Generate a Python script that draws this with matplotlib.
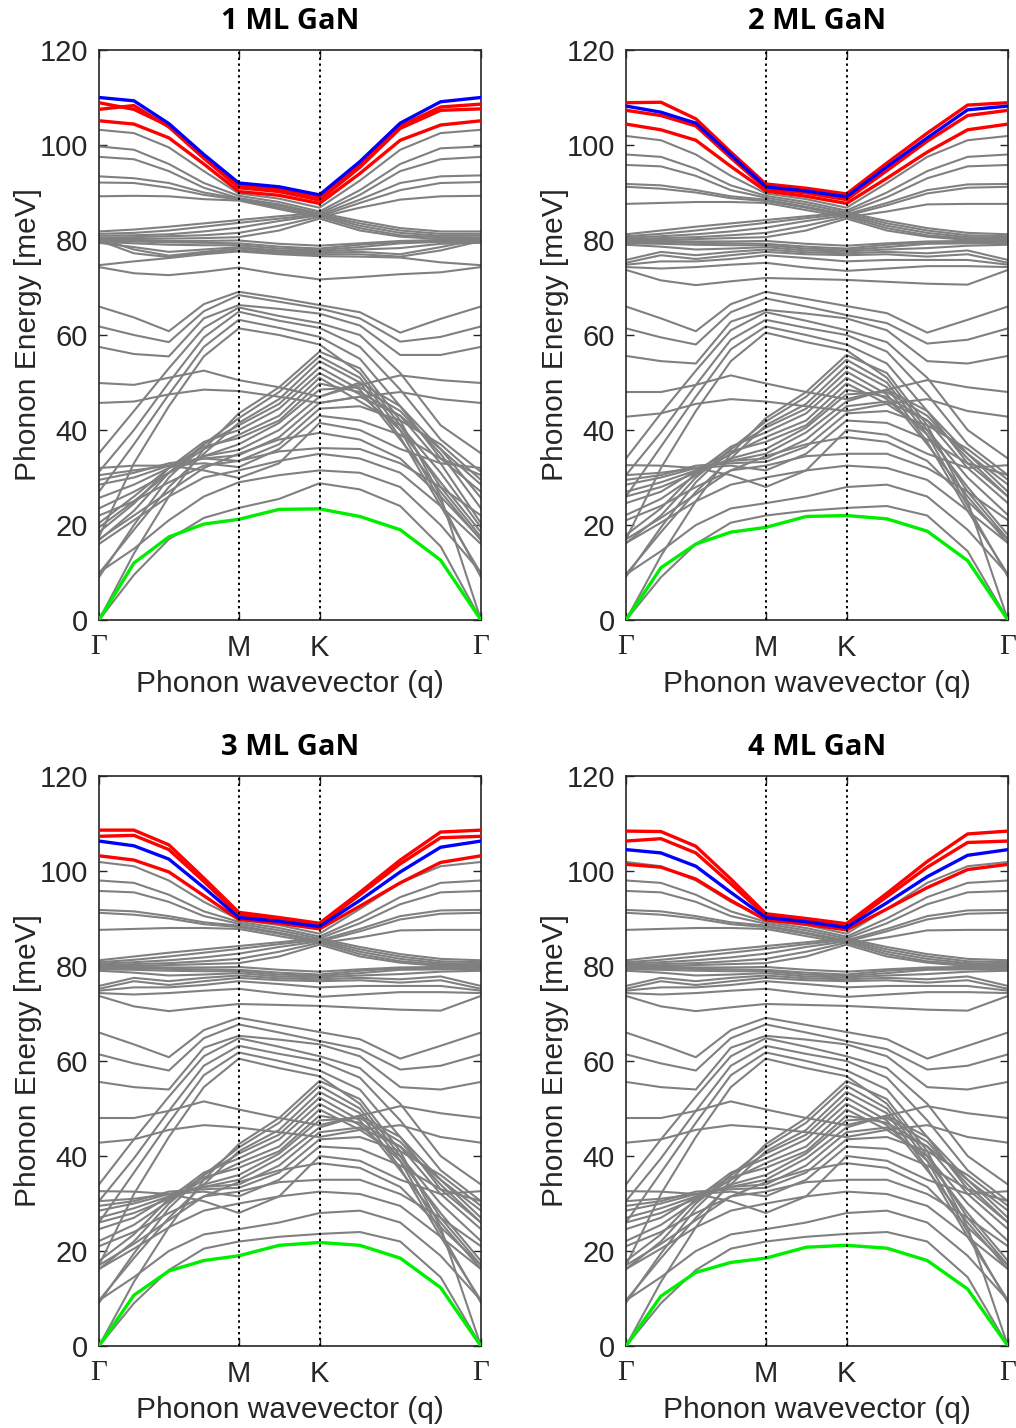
import numpy as np
import matplotlib.pyplot as plt

# q path: Gamma -> M -> K -> Gamma (hexagonal BZ lengths)
Q_NODES = [0.0, 0.866, 1.366, 2.366]
Q_LABELS = ['\u0393', 'M', 'K', '\u0393']
TITLES = ['1 ML GaN', '2 ML GaN', '3 ML GaN', '4 ML GaN']

# band energies (meV) sampled at: G, 1/4, 1/2, 3/4 GM, M, mid MK, K, 1/4, 1/2, 3/4 KG, G
GRAY_1ML = [
    [103.2, 102.5, 99.5, 94.5, 89.8, 88.7, 86.8, 92.5, 99.0, 102.5, 103.2],
    [99.7, 99.0, 96.0, 92.0, 89.3, 88.0, 86.0, 90.5, 96.0, 99.3, 99.7],
    [97.5, 97.0, 94.5, 91.0, 88.8, 87.5, 85.6, 89.5, 94.5, 97.0, 97.5],
    [93.4, 93.0, 92.0, 90.0, 88.7, 87.2, 85.3, 88.5, 92.0, 93.4, 93.6],
    [92.1, 92.0, 91.0, 89.5, 88.5, 86.8, 85.0, 87.8, 90.5, 92.0, 92.2],
    [89.2, 89.3, 89.2, 88.6, 88.3, 86.5, 84.8, 86.8, 88.5, 89.2, 89.3],
    [81.8, 82.2, 82.8, 83.5, 84.2, 85.0, 85.7, 84.0, 82.5, 81.8, 81.8],
    [81.3, 81.5, 82.0, 82.8, 83.6, 84.5, 85.4, 83.5, 82.0, 81.3, 81.3],
    [80.9, 81.0, 81.2, 81.8, 82.6, 84.0, 85.2, 83.0, 81.5, 80.9, 80.9],
    [80.5, 80.6, 80.8, 81.0, 81.5, 83.0, 84.9, 82.5, 81.0, 80.6, 80.5],
    [80.2, 80.2, 80.3, 80.4, 80.6, 82.0, 84.5, 82.0, 80.7, 80.2, 80.2],
    [80.0, 79.9, 79.8, 79.8, 79.9, 79.2, 78.8, 79.3, 79.8, 80.0, 80.0],
    [79.8, 79.7, 79.5, 79.4, 79.3, 78.6, 78.2, 79.0, 79.6, 79.8, 79.8],
    [79.6, 79.3, 79.0, 78.9, 78.9, 78.2, 77.9, 78.5, 79.3, 79.6, 79.6],
    [79.4, 78.5, 77.5, 78.0, 78.5, 77.8, 77.6, 78.0, 78.3, 79.2, 79.4],
    [80.3, 78.0, 76.7, 77.5, 78.2, 77.5, 77.3, 77.5, 77.0, 78.5, 80.2],
    [79.9, 77.2, 76.4, 77.2, 77.8, 77.2, 77.0, 77.0, 76.5, 77.8, 79.8],
    [74.7, 75.5, 76.2, 77.0, 77.6, 77.0, 76.6, 76.5, 76.3, 75.3, 74.7],
    [74.3, 73.0, 72.6, 73.3, 74.2, 72.8, 71.7, 72.2, 72.8, 73.2, 74.3],
    [66.0, 63.7, 60.8, 66.5, 69.1, 67.8, 66.3, 64.8, 60.5, 63.4, 66.0],
    [61.8, 60.0, 58.5, 65.0, 68.4, 67.0, 65.6, 63.5, 58.6, 59.6, 61.8],
    [57.5, 56.0, 55.5, 63.5, 66.3, 65.5, 64.5, 62.0, 55.8, 55.8, 57.5],
    [35.1, 44.0, 53.0, 61.5, 65.8, 64.0, 62.5, 60.0, 52.0, 41.0, 35.1],
    [31.2, 40.0, 50.0, 59.5, 64.9, 63.0, 61.5, 57.5, 48.5, 38.0, 31.2],
    [27.0, 37.0, 47.5, 57.5, 63.2, 61.5, 59.6, 55.0, 45.0, 34.0, 27.0],
    [17.5, 33.0, 45.0, 55.5, 61.4, 60.0, 58.0, 52.0, 41.0, 28.0, 17.5],
    [49.9, 49.5, 51.0, 52.5, 50.5, 49.0, 47.0, 49.5, 51.5, 50.5, 49.9],
    [45.7, 46.0, 47.5, 48.5, 48.2, 47.0, 45.7, 47.0, 48.0, 46.5, 45.7],
    [0.0, 14.0, 26.0, 36.0, 43.5, 49.0, 56.5, 53.0, 42.0, 26.0, 0.0],
    [0.0, 9.5, 17.0, 21.5, 23.6, 25.5, 28.8, 27.5, 24.0, 15.5, 0.0],
    [9.0, 20.0, 30.0, 37.0, 42.5, 48.0, 55.5, 51.0, 40.0, 25.0, 9.0],
    [9.8, 19.0, 28.0, 35.0, 41.5, 46.5, 54.5, 50.0, 38.5, 24.0, 9.8],
    [16.8, 23.0, 31.0, 37.0, 41.0, 45.5, 53.2, 48.5, 38.0, 27.0, 16.8],
    [18.5, 24.5, 32.0, 37.5, 40.0, 44.5, 52.0, 47.5, 40.0, 29.0, 18.5],
    [19.5, 25.0, 31.0, 36.0, 39.0, 43.0, 51.0, 46.0, 41.0, 31.0, 19.5],
    [20.4, 26.0, 32.0, 36.5, 38.3, 42.0, 49.8, 48.0, 43.0, 33.0, 20.4],
    [23.5, 27.0, 31.0, 34.5, 37.0, 41.5, 48.5, 49.0, 44.0, 35.0, 23.5],
    [25.7, 28.5, 32.0, 34.5, 35.8, 40.0, 47.0, 50.0, 45.0, 36.0, 25.7],
    [28.5, 30.0, 32.5, 34.0, 34.7, 38.5, 45.7, 47.0, 43.0, 36.0, 28.5],
    [29.5, 31.0, 33.0, 34.0, 33.5, 37.0, 44.5, 45.0, 42.0, 37.0, 29.5],
    [30.5, 31.5, 32.5, 33.0, 32.2, 36.0, 43.0, 42.0, 39.0, 34.0, 30.5],
    [32.0, 32.5, 32.5, 31.5, 29.9, 33.0, 41.5, 40.0, 36.0, 33.0, 32.0],
    [17.0, 22.0, 27.0, 32.0, 35.0, 38.0, 39.4, 38.0, 34.0, 26.0, 17.0],
    [22.0, 25.0, 29.0, 32.5, 33.5, 35.5, 36.2, 36.0, 33.0, 28.0, 22.0],
    [16.0, 21.0, 26.0, 30.0, 31.5, 33.5, 35.0, 34.0, 31.0, 24.0, 16.0],
    [10.0, 15.0, 21.0, 26.0, 29.0, 30.5, 31.5, 31.0, 28.0, 20.0, 10.0],
]

GRAY_NML = [
    [101.9, 101.0, 98.0, 93.5, 89.8, 88.6, 86.8, 92.0, 97.5, 101.0, 101.9],
    [98.0, 97.5, 95.0, 91.5, 89.3, 88.0, 86.2, 90.0, 94.5, 97.5, 98.0],
    [95.8, 95.5, 93.5, 90.5, 88.9, 87.5, 85.8, 89.0, 93.0, 95.5, 95.8],
    [91.8, 91.5, 90.5, 89.2, 88.5, 87.0, 85.4, 87.8, 90.5, 91.7, 91.8],
    [91.2, 90.8, 90.0, 88.8, 88.2, 86.8, 85.1, 87.3, 89.8, 91.0, 91.2],
    [87.6, 87.8, 88.0, 88.0, 87.8, 86.3, 84.8, 86.0, 87.5, 87.6, 87.6],
    [81.2, 82.0, 82.8, 83.5, 84.2, 85.0, 85.8, 84.0, 82.5, 81.5, 81.2],
    [80.8, 81.3, 82.0, 82.8, 83.6, 84.6, 85.5, 83.5, 82.0, 81.0, 80.8],
    [80.5, 80.8, 81.2, 81.8, 82.6, 84.0, 85.2, 83.0, 81.5, 80.6, 80.5],
    [80.2, 80.4, 80.6, 81.0, 81.5, 83.0, 84.9, 82.5, 81.0, 80.3, 80.2],
    [80.0, 80.0, 80.2, 80.4, 80.6, 82.0, 84.5, 82.0, 80.7, 80.0, 80.0],
    [79.8, 79.8, 79.7, 79.7, 79.8, 79.2, 78.8, 79.3, 79.7, 79.8, 79.8],
    [79.6, 79.5, 79.4, 79.3, 79.2, 78.6, 78.2, 79.0, 79.5, 79.6, 79.6],
    [79.3, 79.2, 79.0, 78.9, 78.9, 78.2, 77.9, 78.5, 79.2, 79.3, 79.3],
    [79.0, 78.6, 78.0, 78.2, 78.5, 77.8, 77.6, 78.0, 78.3, 78.8, 79.0],
    [75.8, 77.5, 76.8, 77.5, 78.0, 77.4, 77.2, 77.5, 77.2, 77.8, 75.8],
    [75.2, 76.8, 76.0, 76.8, 77.5, 77.0, 76.8, 77.0, 76.5, 77.0, 75.2],
    [74.8, 75.5, 75.5, 76.0, 76.8, 76.2, 75.5, 75.8, 75.8, 75.8, 74.8],
    [74.3, 74.0, 74.3, 74.8, 75.2, 74.2, 73.5, 74.0, 74.5, 74.5, 74.3],
    [73.7, 71.5, 70.5, 71.3, 72.0, 71.8, 71.6, 71.2, 70.8, 70.6, 73.7],
    [66.0, 63.5, 60.8, 66.5, 69.1, 67.6, 66.1, 64.6, 60.5, 63.2, 66.0],
    [61.4, 59.5, 58.0, 64.8, 67.7, 66.0, 64.2, 62.5, 58.2, 59.0, 61.4],
    [55.6, 54.5, 54.0, 62.8, 65.3, 64.5, 63.5, 61.0, 54.5, 54.0, 55.6],
    [34.0, 43.5, 52.5, 61.0, 64.8, 63.0, 61.0, 58.5, 51.0, 40.0, 34.0],
    [30.5, 39.5, 49.5, 59.0, 63.2, 61.5, 60.0, 56.5, 47.5, 37.0, 30.5],
    [26.0, 36.5, 47.0, 57.0, 61.8, 60.0, 58.0, 54.0, 44.0, 33.0, 26.0],
    [17.0, 32.0, 44.0, 54.5, 60.5, 58.5, 56.8, 51.0, 40.0, 27.0, 17.0],
    [48.0, 48.0, 49.5, 51.5, 49.8, 48.0, 46.5, 48.5, 50.5, 49.0, 48.0],
    [42.8, 43.5, 45.5, 46.5, 46.0, 45.0, 44.0, 45.5, 46.5, 44.0, 42.8],
    [0.0, 13.5, 25.0, 35.0, 42.5, 48.0, 55.8, 52.0, 41.0, 25.0, 0.0],
    [0.0, 9.0, 16.0, 20.5, 22.0, 23.0, 23.6, 24.0, 22.0, 14.5, 0.0],
    [9.1, 19.5, 29.0, 36.0, 41.8, 47.0, 54.8, 50.0, 39.0, 24.0, 9.1],
    [9.6, 18.5, 27.0, 34.0, 41.0, 45.5, 53.5, 49.0, 37.5, 23.0, 9.6],
    [16.2, 22.0, 30.0, 36.0, 40.5, 44.5, 52.3, 47.5, 37.0, 26.0, 16.2],
    [17.9, 23.5, 31.0, 36.5, 39.5, 43.5, 51.0, 46.5, 39.0, 28.0, 17.9],
    [22.1, 25.5, 30.5, 35.0, 38.5, 42.0, 49.8, 45.5, 40.0, 30.0, 22.1],
    [24.6, 27.0, 31.5, 35.5, 37.5, 41.0, 48.5, 47.0, 42.0, 32.0, 24.6],
    [26.0, 28.0, 31.0, 34.0, 36.0, 40.5, 47.5, 48.0, 43.0, 34.0, 26.0],
    [27.0, 29.0, 31.5, 33.5, 35.0, 39.5, 46.0, 48.5, 44.0, 35.0, 27.0],
    [28.5, 30.0, 32.0, 33.5, 34.0, 38.0, 45.0, 46.0, 42.0, 35.0, 28.5],
    [29.5, 30.5, 32.5, 33.0, 33.3, 36.5, 43.5, 44.0, 41.0, 36.0, 29.5],
    [30.5, 31.0, 32.0, 32.5, 31.5, 35.0, 42.0, 41.5, 38.0, 33.0, 30.5],
    [32.6, 32.5, 32.0, 30.5, 28.0, 31.5, 40.0, 39.0, 35.0, 32.0, 32.6],
    [17.0, 21.5, 26.5, 31.5, 34.5, 37.0, 38.5, 37.5, 33.5, 25.0, 17.0],
    [21.0, 24.0, 28.0, 31.5, 32.5, 34.5, 35.0, 35.0, 32.0, 27.0, 21.0],
    [16.2, 20.5, 25.0, 28.5, 30.0, 31.5, 32.5, 32.0, 29.5, 23.0, 16.2],
    [9.6, 14.5, 20.0, 23.5, 24.6, 26.0, 28.0, 28.5, 26.0, 19.0, 9.6],
]

RED = [
    [[108.9, 107.5, 104.0, 97.5, 91.5, 90.6, 88.9, 95.8, 104.0, 108.0, 108.6],
     [107.5, 108.3, 103.8, 97.2, 91.0, 90.2, 88.4, 95.3, 103.5, 107.3, 107.6],
     [105.1, 104.4, 101.5, 96.0, 90.2, 89.4, 87.7, 94.0, 101.0, 104.2, 105.1]],
    [[108.9, 109.0, 105.5, 98.5, 91.8, 90.9, 89.7, 96.2, 102.5, 108.4, 108.9],
     [107.3, 106.2, 104.0, 97.3, 90.8, 89.9, 88.5, 94.6, 100.8, 106.2, 107.3],
     [104.4, 103.2, 101.0, 95.5, 90.3, 89.2, 87.7, 93.0, 98.5, 103.2, 104.4]],
    [[108.6, 108.6, 105.5, 98.5, 91.3, 90.2, 89.0, 95.5, 102.3, 108.2, 108.6],
     [107.3, 107.5, 104.5, 97.8, 90.8, 89.8, 88.6, 95.0, 101.5, 107.0, 107.3],
     [103.2, 102.3, 99.8, 94.8, 89.8, 89.0, 87.8, 92.6, 97.5, 101.8, 103.2]],
    [[108.4, 108.3, 105.2, 98.3, 91.0, 90.0, 88.9, 95.3, 102.0, 107.8, 108.4],
     [106.3, 106.8, 103.8, 97.3, 90.6, 89.6, 88.5, 94.6, 100.8, 106.0, 106.3],
     [101.4, 100.8, 98.3, 93.8, 89.7, 88.8, 87.6, 92.0, 96.5, 100.3, 101.4]],
]

BLUE = [
    [110.0, 109.3, 104.5, 98.0, 92.0, 91.2, 89.5, 96.5, 104.6, 109.1, 110.0],
    [108.2, 106.9, 104.6, 97.9, 91.2, 90.3, 89.1, 95.4, 101.5, 107.4, 108.2],
    [106.3, 105.3, 102.5, 96.5, 90.2, 89.4, 88.3, 93.8, 99.8, 105.0, 106.3],
    [104.5, 103.8, 101.0, 95.5, 90.2, 89.3, 88.1, 93.3, 98.8, 103.3, 104.5],
]

GREEN = [
    [0.0, 12.0, 17.5, 20.2, 21.2, 23.3, 23.4, 21.8, 19.0, 12.6, 0.0],
    [0.0, 11.0, 16.0, 18.5, 19.5, 21.8, 22.0, 21.3, 18.7, 12.5, 0.0],
    [0.0, 10.7, 15.8, 18.0, 19.0, 21.2, 21.8, 21.2, 18.5, 12.3, 0.0],
    [0.0, 10.5, 15.5, 17.6, 18.5, 20.8, 21.2, 20.6, 18.0, 12.0, 0.0],
]

# sample positions along the path
q = np.concatenate([
    np.linspace(Q_NODES[0], Q_NODES[1], 5),
    np.linspace(Q_NODES[1], Q_NODES[2], 3)[1:],
    np.linspace(Q_NODES[2], Q_NODES[3], 5)[1:],
])

plt.rcParams['font.family'] = ['Liberation Sans', 'DejaVu Sans']
fig = plt.figure(figsize=(10.16, 14.28), dpi=100)

positions = [
    [0.0974, 0.5658, 0.3760, 0.3992],
    [0.6161, 0.5658, 0.3760, 0.3992],
    [0.0974, 0.0574, 0.3760, 0.3992],
    [0.6161, 0.0574, 0.3760, 0.3992],
]
dark = '#262626'

for i in range(4):
    ax = fig.add_axes(positions[i])
    gray = GRAY_1ML if i == 0 else GRAY_NML
    for band in gray:
        ax.plot(q, band, color='#808080', lw=1.5, zorder=2)
    for band in RED[i]:
        ax.plot(q, band, color='#ff0000', lw=2.4, zorder=3)
    ax.plot(q, BLUE[i], color='#0000ff', lw=2.4, zorder=4)
    ax.plot(q, GREEN[i], color='#00ee00', lw=2.4, zorder=4)

    for xn in Q_NODES[1:3]:
        ax.axvline(xn, color='black', ls=(0, (1.2, 1.8)), lw=1.4, zorder=5)

    ax.set_xlim(Q_NODES[0], Q_NODES[-1])
    ax.set_ylim(0, 120)
    ax.set_yticks(np.arange(0, 121, 20))
    ax.set_xticks(Q_NODES)
    ax.set_xticklabels(Q_LABELS)
    for lab in ax.get_xticklabels():
        if lab.get_text() == '\u0393':
            lab.set_fontfamily(['Liberation Serif', 'DejaVu Serif'])
    ax.tick_params(direction='in', top=True, right=True, length=6,
                   width=1.0, labelsize=21, colors=dark)
    ax.tick_params(axis='x', pad=10)
    ax.tick_params(axis='y', pad=8)
    for s in ax.spines.values():
        s.set_linewidth(1.2)
        s.set_color(dark)
    ax.set_ylabel('Phonon Energy [meV]', fontsize=21.5, color=dark, labelpad=-2)
    ax.set_xlabel('Phonon wavevector (q)', fontsize=21.5, color=dark, labelpad=6)
    ax.set_title(TITLES[i], fontsize=21, fontweight='bold',
                 fontfamily=['Open Sans', 'DejaVu Sans'], pad=15)

fig.savefig('out.png', dpi=100)
